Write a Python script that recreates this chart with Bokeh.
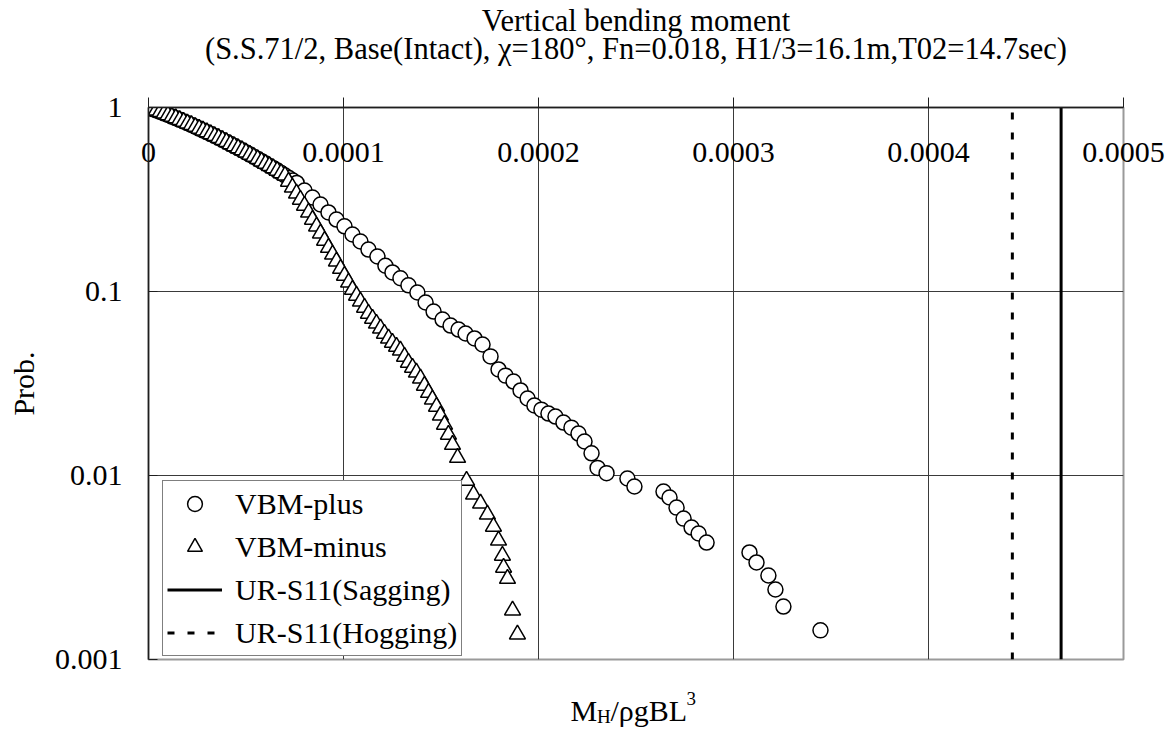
import numpy as np
from bokeh.plotting import figure
from bokeh.layouts import column
from bokeh.models import (Range1d, FixedTicker, Legend, LegendItem, Label,
                          ColumnDataSource)
from bokeh.embed import file_html
from bokeh.resources import INLINE

FONT = "Liberation Serif"
FS = "30px"
FS_TITLE = "30.5px"
FS_SMALL = "19px"
INK = "black"
W = 1175
FRAME_W = 975

title_line1 = "Vertical bending moment"
title_line2 = "(S.S.71/2, Base(Intact), \u03c7=180\u00b0, Fn=0.018, H1/3=16.1m,T02=14.7sec)"
y_title = "Prob."

x_ticks = [0.0, 0.0001, 0.0002, 0.0003, 0.0004, 0.0005]
x_tick_labels = ["0", "0.0001", "0.0002", "0.0003", "0.0004", "0.0005"]
y_ticks = [0.001, 0.01, 0.1, 1.0]
y_tick_labels = ["0.001", "0.01", "0.1", "1"]

x_min, x_max = 0.0, 0.0005
y_min, y_max = 0.001, 1.0

# exceedance probability of VBM peaks, x given in units of 1e-5
vbm_plus_x = [0.0, 0.2, 0.4, 0.6, 0.8, 1.0, 1.2, 1.4, 1.6, 1.8, 2.0, 2.2, 2.4, 2.6, 2.8,
              3.0, 3.2, 3.4, 3.6, 3.8, 4.0, 4.2, 4.4, 4.6, 4.8, 5.0, 5.2, 5.4, 5.6, 5.8,
              6.0, 6.2, 6.4, 6.6, 6.8, 7.0, 7.2, 7.4, 7.6,
              8.00, 8.41, 8.82, 9.23, 9.64, 10.05, 10.46, 10.87, 11.28, 11.74, 12.15,
              12.51, 12.92, 13.33, 13.79, 14.21, 14.62, 15.08, 15.49, 15.90, 16.26,
              16.72, 17.13, 17.54, 17.95, 18.31, 18.72, 19.08, 19.44, 19.79, 20.15,
              20.51, 20.87, 21.28, 21.69, 22.05, 22.36, 22.72, 23.03, 23.49, 24.56,
              24.92, 26.41, 26.72, 27.08, 27.44, 27.85, 28.21, 28.62, 30.82, 31.18,
              31.79, 32.15, 32.56, 34.46]
vbm_plus_p = [1.000, 0.982, 0.964, 0.946, 0.928, 0.910, 0.892, 0.875, 0.857, 0.839,
              0.821, 0.804, 0.786, 0.768, 0.751, 0.734, 0.717, 0.700, 0.683, 0.666,
              0.650, 0.633, 0.617, 0.601, 0.586, 0.570, 0.555, 0.540, 0.525, 0.510,
              0.496, 0.481, 0.468, 0.454, 0.440, 0.427, 0.414, 0.401, 0.389,
              0.354, 0.324, 0.297, 0.269, 0.246, 0.226, 0.204, 0.187, 0.169, 0.155,
              0.138, 0.127, 0.118, 0.108, 0.0988, 0.0871, 0.0778, 0.0704, 0.0653,
              0.0621, 0.0591, 0.0556, 0.0515, 0.0444, 0.0377, 0.0349, 0.0324, 0.0290,
              0.0262, 0.0240, 0.0228, 0.0217, 0.0209, 0.0194, 0.0182, 0.0169, 0.0153,
              0.0132, 0.0110, 0.0103, 0.00963, 0.00871, 0.00818, 0.00759, 0.00669,
              0.00583, 0.00521, 0.00484, 0.00432, 0.00382, 0.00337, 0.00286, 0.00240,
              0.00194, 0.00144]

vbm_minus_x = [0.0, 0.2, 0.4, 0.6, 0.8, 1.0, 1.2, 1.4, 1.6, 1.8, 2.0, 2.2, 2.4, 2.6, 2.8,
               3.0, 3.2, 3.4, 3.6, 3.8, 4.0, 4.2, 4.4, 4.6, 4.8, 5.0, 5.2, 5.4, 5.6, 5.8,
               6.0, 6.2, 6.4, 6.6, 6.8, 7.0,
               7.18, 7.38, 7.59, 7.79, 8.00, 8.21, 8.41, 8.62, 8.82, 9.03, 9.23, 9.44,
               9.64, 9.85, 10.05, 10.26, 10.46, 10.67, 10.87, 11.08, 11.28, 11.49,
               11.69, 11.90, 12.10, 12.31, 12.51, 12.72, 12.92, 13.13, 13.33, 13.54,
               13.74, 13.95, 14.15, 14.36, 14.56, 14.77, 14.97, 15.18, 15.38, 15.59,
               15.85, 16.31, 16.67, 17.03, 17.38, 17.69, 17.95, 18.15, 18.21, 18.41,
               18.67, 18.92]
vbm_minus_p = [1.000, 0.982, 0.964, 0.946, 0.928, 0.910, 0.892, 0.875, 0.857, 0.839,
               0.821, 0.804, 0.786, 0.768, 0.751, 0.734, 0.717, 0.700, 0.683, 0.666,
               0.650, 0.633, 0.617, 0.601, 0.586, 0.570, 0.555, 0.540, 0.525, 0.510,
               0.496, 0.481, 0.468, 0.454, 0.440, 0.427,
               0.396, 0.368, 0.341, 0.316, 0.293, 0.269, 0.246, 0.226, 0.207, 0.189,
               0.173, 0.159, 0.146, 0.133, 0.122, 0.112, 0.1025, 0.0951, 0.0883,
               0.0818, 0.0759, 0.0713, 0.0670, 0.0630, 0.0591, 0.0556, 0.0528, 0.0502,
               0.0478, 0.0443, 0.0411, 0.0386, 0.0363, 0.0337, 0.0308, 0.0282, 0.0259,
               0.0237, 0.0212, 0.0189, 0.0167, 0.0147, 0.0125, 0.00939, 0.00789,
               0.00705, 0.00614, 0.00528, 0.00444, 0.00367, 0.00316, 0.00275, 0.00185,
               0.00137]

# UR-S11 design values
ur_s11_sagging = 0.000468
ur_s11_hogging = 0.000443

X_UNIT = 1e-5


def text_strip(height):
    """Blank, axis-less figure used as a text band above/below the chart."""
    f = figure(width=W, height=height, x_range=Range1d(0, 1), y_range=Range1d(0, 1),
               x_axis_type=None, y_axis_type=None, title_location=None,
               output_backend="svg", toolbar_location=None, min_border=0)
    f.outline_line_color = None
    f.background_fill_color = "white"
    f.border_fill_color = "white"
    f.xgrid.visible = False
    f.ygrid.visible = False
    return f


lab_kw = dict(x_units="screen", y_units="screen", text_font=FONT, text_color=INK,
              text_baseline="alphabetic")

# ---- title band (its frame lines up with the chart frame) ----
head = text_strip(70)
head.add_layout(Label(x=FRAME_W / 2, y=50, text=title_line1, text_align="center",
                      text_font_size=FS_TITLE, **lab_kw))
head.add_layout(Label(x=FRAME_W / 2, y=22, text=title_line2, text_align="center",
                      text_font_size=FS_TITLE, **lab_kw))

# ---- main chart ----
p = figure(width=W, height=615,
           x_range=Range1d(x_min, x_max), y_range=Range1d(y_min, y_max),
           y_axis_type="log", x_axis_location="above", title_location=None,
           output_backend="svg", toolbar_location=None,
           min_border_left=148, min_border_right=52,
           min_border_top=37, min_border_bottom=26)

p.background_fill_color = "white"
p.border_fill_color = "white"
p.outline_line_color = "#9a9a9a"
p.outline_line_width = 2

# x axis along the top, labels inside the frame
xa = p.xaxis[0]
xa.ticker = FixedTicker(ticks=x_ticks)
xa.major_label_overrides = dict(zip(x_ticks, x_tick_labels))
xa.major_label_text_font = FONT
xa.major_label_text_font_size = FS
xa.major_label_text_color = INK
xa.major_label_standoff = -64
xa.major_tick_out = 10
xa.major_tick_in = 0
xa.minor_tick_line_color = None
xa.axis_line_color = "#1e1e1e"
xa.axis_line_width = 1.5
xa.major_tick_line_color = "#1e1e1e"

ya = p.yaxis[0]
ya.ticker = FixedTicker(ticks=y_ticks)
ya.major_label_overrides = dict(zip(y_ticks, y_tick_labels))
ya.major_label_text_font = FONT
ya.major_label_text_font_size = FS
ya.major_label_text_color = INK
ya.major_label_standoff = 26
ya.major_tick_out = 0
ya.major_tick_in = 9
ya.minor_tick_line_color = None
ya.axis_line_color = "#1e1e1e"
ya.axis_line_width = 1.5
ya.major_tick_line_color = "#1e1e1e"
ya.axis_label = y_title
ya.axis_label_text_font = FONT
ya.axis_label_text_font_size = FS
ya.axis_label_text_font_style = "normal"
ya.axis_label_text_color = INK
ya.axis_label_standoff = 12

p.xgrid.ticker = FixedTicker(ticks=x_ticks[1:-1])
p.ygrid.ticker = FixedTicker(ticks=y_ticks[1:-1])
p.xgrid.grid_line_color = "#3a3a3a"
p.ygrid.grid_line_color = "#3a3a3a"
p.xgrid.grid_line_width = 1
p.ygrid.grid_line_width = 1

src_plus = ColumnDataSource(dict(x=np.array(vbm_plus_x) * X_UNIT, y=vbm_plus_p))
src_minus = ColumnDataSource(dict(x=np.array(vbm_minus_x) * X_UNIT, y=vbm_minus_p))

r_plus = p.scatter("x", "y", source=src_plus, marker="circle", size=15,
                   fill_color="white", line_color="black", line_width=1.5)
r_minus = p.scatter("x", "y", source=src_minus, marker="triangle", size=16,
                    fill_color="white", line_color="black", line_width=1.5)

r_sag = p.line([ur_s11_sagging, ur_s11_sagging], [y_min, y_max],
               line_color="black", line_width=3)
r_hog = p.line([ur_s11_hogging, ur_s11_hogging], [y_min, y_max],
               line_color="black", line_width=3, line_dash="7 13")

legend = Legend(items=[
    LegendItem(label="VBM-plus", renderers=[r_plus]),
    LegendItem(label="VBM-minus", renderers=[r_minus]),
    LegendItem(label="UR-S11(Sagging)", renderers=[r_sag]),
    LegendItem(label="UR-S11(Hogging)", renderers=[r_hog]),
], location=(14, 3))
legend.label_text_font = FONT
legend.label_text_font_size = FS
legend.label_text_color = INK
legend.glyph_width = 55
legend.glyph_height = 37
legend.label_height = 37
legend.spacing = 6
legend.padding = 4
legend.margin = 0
legend.label_standoff = 13
legend.border_line_color = "black"
legend.border_line_width = 1
legend.background_fill_alpha = 1
p.add_layout(legend, "center")

# ---- x axis title band: M_H / rho g B L^3 ----
foot = text_strip(55)
foot.add_layout(Label(x=422, y=30, text="M", text_font_size=FS, **lab_kw))
foot.add_layout(Label(x=448.5, y=24, text="H", text_font_size=FS_SMALL, **lab_kw))
foot.add_layout(Label(x=462, y=30, text="/\u03c1gBL", text_font_size=FS, **lab_kw))
foot.add_layout(Label(x=538, y=42, text="3", text_font_size=FS_SMALL, **lab_kw))

page = column(head, p, foot, spacing=0)
open("out.html", "w").write(file_html(page, INLINE))
